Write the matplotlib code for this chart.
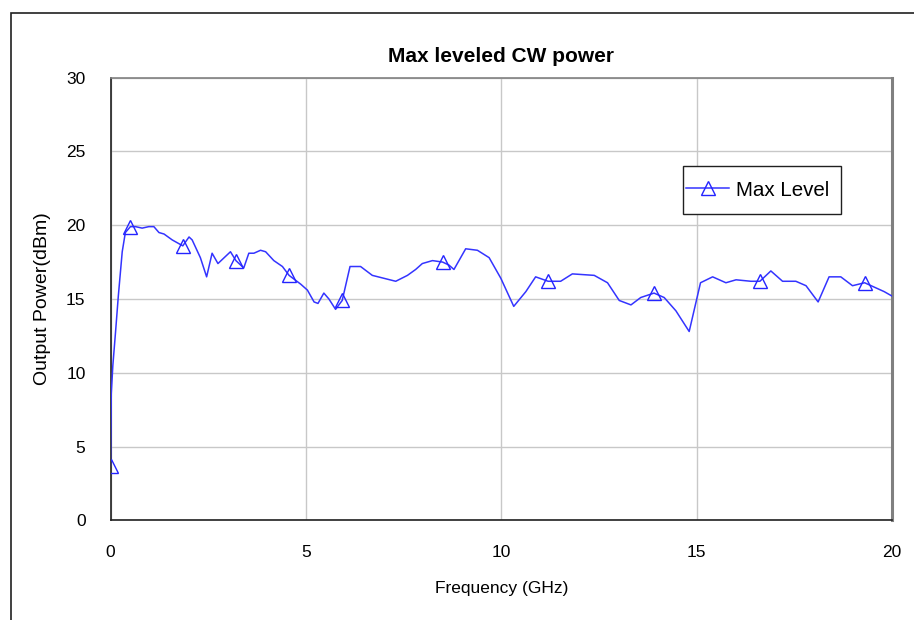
import matplotlib
matplotlib.use("Agg")
import matplotlib.pyplot as plt
from matplotlib.patches import Rectangle

# frequency (GHz) and max leveled power (dBm)
freq = [0.00, 0.02, 0.06, 0.13, 0.20, 0.30, 0.38, 0.51, 0.64, 0.81,
        0.98, 1.11, 1.24, 1.37, 1.58, 1.85, 2.01, 2.09, 2.30, 2.46,
        2.60, 2.75, 3.07, 3.21, 3.41, 3.54, 3.67, 3.84, 3.97, 4.18,
        4.40, 4.57, 4.87, 5.04, 5.21, 5.31, 5.46, 5.59, 5.76, 5.93,
        6.13, 6.40, 6.70, 7.00, 7.30, 7.60, 7.81, 7.98, 8.24, 8.50,
        8.66, 8.79, 9.09, 9.39, 9.69, 9.99, 10.32, 10.63, 10.88, 11.20,
        11.52, 11.82, 12.38, 12.72, 13.02, 13.32, 13.57, 13.91, 14.17, 14.47,
        14.81, 15.10, 15.41, 15.75, 16.01, 16.39, 16.62, 16.90, 17.20, 17.54,
        17.80, 18.11, 18.39, 18.69, 18.99, 19.30, 19.55, 19.80, 20.00]
power = [3.7, 8.6, 10.5, 12.8, 15.2, 18.2, 19.5, 19.9, 19.9, 19.8,
         19.9, 19.9, 19.5, 19.4, 19.0, 18.6, 19.2, 19.0, 17.8, 16.5,
         18.1, 17.4, 18.2, 17.6, 17.1, 18.1, 18.1, 18.3, 18.2, 17.6,
         17.2, 16.6, 16.0, 15.6, 14.8, 14.7, 15.4, 15.0, 14.3, 14.9,
         17.2, 17.2, 16.6, 16.4, 16.2, 16.6, 17.0, 17.4, 17.6, 17.5,
         17.3, 17.0, 18.4, 18.3, 17.8, 16.4, 14.5, 15.5, 16.5, 16.2,
         16.2, 16.7, 16.6, 16.1, 14.9, 14.6, 15.1, 15.4, 15.1, 14.2,
         12.8, 16.1, 16.5, 16.1, 16.3, 16.2, 16.2, 16.9, 16.2, 16.2,
         15.9, 14.8, 16.5, 16.5, 15.9, 16.1, 15.8, 15.5, 15.2]
# frequencies where the chart shows a triangle marker
marker_freqs = [0.00, 0.51, 1.85, 3.21, 4.57, 5.93, 8.50, 11.20, 13.91, 16.62, 19.30]

x_ticks = [0, 5, 10, 15, 20]
y_ticks = [0, 5, 10, 15, 20, 25, 30]

plt.rcParams['font.family'] = ['Liberation Sans', 'DejaVu Sans']

fig = plt.figure(figsize=(9.14, 6.2), dpi=100)
ax = fig.add_axes([0.1209, 0.1605, 0.8550, 0.7145])

# outer chart frame (left and top edges visible)
fig.add_artist(Rectangle((10.5 / 914, -0.05), 1.2, 0.979 + 0.05,
                         transform=fig.transFigure, fill=False,
                         edgecolor='#202020', lw=1.2, clip_on=False))

marks = [freq.index(f) for f in marker_freqs]
ax.plot(freq, power, color='#3434ff', lw=1.1, marker='^', markevery=marks,
        markersize=10, markerfacecolor='none', markeredgecolor='#2424ff',
        markeredgewidth=1.0, label='Max Level', zorder=3)

ax.set_xlim(0, 20)
ax.set_ylim(0, 30)
ax.set_xticks(x_ticks)
ax.set_yticks(y_ticks)
ax.tick_params(length=0, labelsize=12.5, pad=18)
ax.grid(True, color='#c8c8c8', lw=1.0)
ax.set_axisbelow(True)

for side in ['left', 'bottom']:
    ax.spines[side].set_color('#202020')
    ax.spines[side].set_linewidth(1.2)
ax.spines['top'].set_color('#808080')
ax.spines['top'].set_linewidth(1.2)
ax.spines['right'].set_color('#808080')
ax.spines['right'].set_linewidth(2.2)

ax.set_title("Max leveled CW power", fontsize=15, fontweight='bold', pad=11)
ax.set_xlabel("Frequency (GHz)", fontsize=12.5)
ax.set_ylabel("Output Power(dBm)", fontsize=14)
ax.xaxis.label.set_verticalalignment('center')
ax.yaxis.label.set_verticalalignment('center')
ax.xaxis.set_label_coords(0.5, (520.5 - 589) / 443)
ax.yaxis.set_label_coords((42 - 110.5) / 781.5, 0.5)

# legend box drawn separately so its padding matches the original
ax.add_patch(Rectangle((0.7326, 0.692), 0.2021, 0.108, transform=ax.transAxes,
                       facecolor='white', edgecolor='#202020', lw=1.0, zorder=4))
leg = ax.legend(loc='center left', bbox_to_anchor=(0.7364, 0.746), borderaxespad=0,
                fontsize=14.8, frameon=False, handlelength=2.1, handletextpad=0.35,
                borderpad=0)
leg.set_zorder(5)

fig.savefig("out.png", dpi=100)
